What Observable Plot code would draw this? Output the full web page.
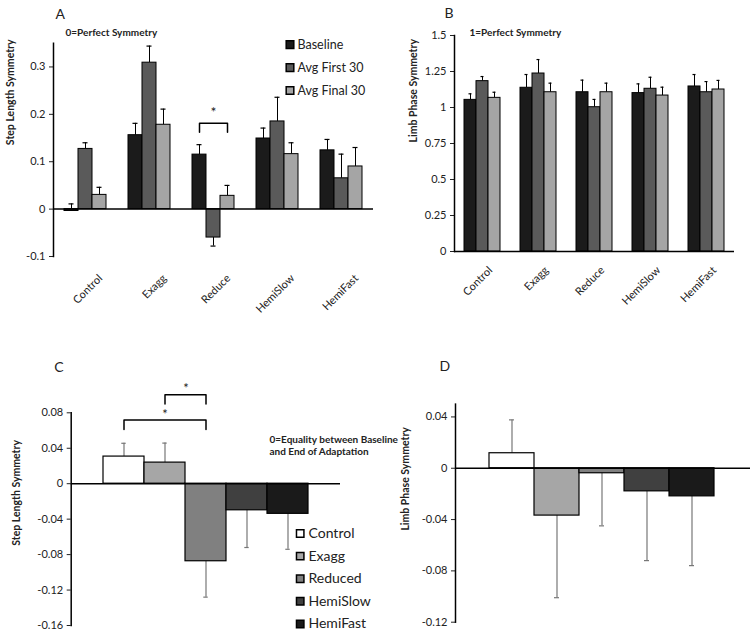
<!DOCTYPE html>
<html><head><meta charset="utf-8">
<script src="https://cdn.jsdelivr.net/npm/d3@7"></script>
<script src="https://cdn.jsdelivr.net/npm/@observablehq/plot@0.6"></script>
<style>
body{margin:0;background:#fff;font-family:Lato,sans-serif}
#wrap{position:relative;width:750px;height:631px;overflow:hidden;background:#fff}
.panel{position:absolute}
.panel svg{background:transparent;overflow:visible;max-width:none}
</style></head><body><div id="wrap"></div><script>
// ---- Panels A & B : grouped bars ----
const groups = ["Control","Exagg","Reduce","HemiSlow","HemiFast"];
const phases = ["Baseline","Avg First 30","Avg Final 30"];
const phaseColors = ["#1b1b1b","#5a5a5a","#a5a5a5"];

// A: Step Length Symmetry (signed error: + up, - down)
const stepBaseline    = [-0.004, 0.156, 0.115, 0.149, 0.124];
const stepFirst30     = [0.127, 0.309, -0.060, 0.185, 0.065];
const stepFinal30     = [0.030, 0.178, 0.028, 0.116, 0.090];
const stepBaselineErr = [0.015, 0.025, 0.021, 0.022, 0.023];
const stepFirst30Err  = [0.013, 0.035, -0.018, 0.051, 0.051];
const stepFinal30Err  = [0.016, 0.033, 0.022, 0.024, 0.040];
const stepTicks = [-0.1, 0, 0.1, 0.2, 0.3];

// B: Limb Phase Symmetry
const limbBaseline    = [1.053, 1.137, 1.106, 1.100, 1.146];
const limbFirst30     = [1.183, 1.236, 1.002, 1.130, 1.106];
const limbFinal30     = [1.067, 1.106, 1.106, 1.083, 1.125];
const limbBaselineErr = [0.042, 0.092, 0.084, 0.064, 0.083];
const limbFirst30Err  = [0.032, 0.097, 0.054, 0.080, 0.074];
const limbFinal30Err  = [0.039, 0.063, 0.063, 0.058, 0.063];
const limbTicks = [0, 0.25, 0.5, 0.75, 1, 1.25, 1.5];

// ---- Panels C & D : change (end of adaptation - baseline) ----
const conditions = ["Control","Exagg","Reduced","HemiSlow","HemiFast"];
const conditionColors = ["#ffffff","#a6a6a6","#808080","#404040","#1a1a1a"];
const stepChange    = [0.0306, 0.0238, -0.0875, -0.030, -0.034];
const stepChangeErr = [0.015, 0.022, -0.0405, -0.042, -0.040];
const stepChangeTicks = [-0.16, -0.12, -0.08, -0.04, 0, 0.04, 0.08];
const limbChange    = [0.0117, -0.0369, -0.0039, -0.018, -0.0219];
const limbChangeErr = [0.026, -0.064, -0.041, -0.054, -0.054];
const limbChangeTicks = [-0.12, -0.08, -0.04, 0, 0.04];

const FONT = "Lato, 'Open Sans', sans-serif";
const wrap = document.getElementById("wrap");
function place(svg, left, top) {
  const d = document.createElement("div");
  d.className = "panel"; d.style.left = left + "px"; d.style.top = top + "px";
  d.appendChild(svg); wrap.appendChild(d);
}
function rows(vals, errs) {
  return groups.flatMap((g, i) => phases.map((p, j) => ({group: g, phase: p, value: vals[j][i], tip: vals[j][i] + errs[j][i]})));
}
const baseStyle = {fontFamily: FONT, fontSize: "11px", color: "#222", background: "transparent", overflow: "visible", maxWidth: "none"};

function groupedPanel(o) {
  const data = rows(o.vals, o.errs);
  return Plot.plot({
    width: 375, height: 320,
    marginLeft: o.ml, marginRight: o.mr, marginTop: o.mt, marginBottom: o.mb,
    style: baseStyle,
    fx: {domain: groups, padding: 0},
    x: {domain: phases, paddingInner: 0, paddingOuter: o.po, axis: null},
    y: {domain: o.domain},
    color: {domain: phases, range: phaseColors},
    marks: [
      Plot.axisY({ticks: o.ticks, tickFormat: d => String(d), tickSize: 4, tickPadding: 4, label: null}),
      Plot.axisFx({anchor: "bottom", tickRotate: -45, tickSize: 0, tickPadding: o.tp, dx: o.ldx, label: null, fontSize: 11}),
      Plot.frame({anchor: "left", facetAnchor: "left", stroke: "#000", strokeWidth: 1.5}),
      Plot.ruleX(data, {fx: "group", x: "phase", y1: "value", y2: "tip", stroke: "#000", strokeWidth: 1}),
      Plot.tickY(data, {fx: "group", x: "phase", y: "tip", insetLeft: 4.5, insetRight: 4.5, stroke: "#000", strokeWidth: 1.2}),
      Plot.barY(data, {fx: "group", x: "phase", y: "value", fill: "phase", stroke: "#000", strokeWidth: 1}),
      Plot.ruleY([0], {stroke: "#000", strokeWidth: 1.5}),
      Plot.text([{g: "Control"}], {fx: "g", text: () => o.letter, frameAnchor: "top-left", textAnchor: "start", dx: o.letterDx, dy: o.letterDy, fontSize: 14}),
      Plot.text([{g: "Control", t: o.title, y: o.titleY}], {fx: "g", text: "t", y: "y", frameAnchor: "left", rotate: -90, dx: o.titleDx, fontWeight: "bold", fontSize: 10.5}),
      Plot.text([{g: "Control", t: o.note, y: o.noteY}], {fx: "g", x: () => "Baseline", y: "y", text: "t", textAnchor: "start", dx: o.noteDx, fontWeight: "bold", fontSize: 10}),
      ...(o.extra || [])
    ]
  });
}

// Panel A
const legendA = phases.map((p, i) => ({g: "HemiSlow", phase: p, i}));
const bracketA = [
  {g: "Reduce", x: "Baseline", y: 0.162}, {g: "Reduce", x: "Baseline", y: 0.181},
  {g: "Reduce", x: "Avg Final 30", y: 0.181}, {g: "Reduce", x: "Avg Final 30", y: 0.162}
];
const svgA = groupedPanel({
  vals: [stepBaseline, stepFirst30, stepFinal30],
  errs: [stepBaselineErr, stepFirst30Err, stepFinal30Err],
  domain: [-0.1, 0.35], ticks: stepTicks,
  ml: 51, mr: 0, mt: 42.75, mb: 64, po: 0.71, tp: 20, ldx: 15,
  letter: "A", letterDx: 2, letterDy: -34,
  title: "Step Length Symmetry", titleY: 0.135, titleDx: -43,
  note: "0=Perfect Symmetry", noteY: 0.3726, noteDx: -6,
  extra: [
    Plot.line(bracketA, {fx: "g", x: "x", y: "y", stroke: "#000", strokeWidth: 1.5}),
    Plot.text([{g: "Reduce"}], {fx: "g", x: () => "Avg First 30", y: () => 0.203, text: () => "*", fontSize: 14}),
    Plot.dot(legendA, {fx: "g", x: () => "Avg Final 30", y: d => 0.347 - d.i * 0.0484, fill: "phase", stroke: "#000", symbol: "square", r: 4.3, dx: -1.5}),
    Plot.text(legendA, {fx: "g", x: () => "Avg Final 30", y: d => 0.347 - d.i * 0.0484, text: "phase", textAnchor: "start", dx: 6, fontSize: 12.5})
  ]
});
place(svgA, 0, 0);

// Panel B
const svgB = groupedPanel({
  vals: [limbBaseline, limbFirst30, limbFinal30],
  errs: [limbBaselineErr, limbFirst30Err, limbFinal30Err],
  domain: [0, 1.5], ticks: limbTicks,
  ml: 78, mr: 15, mt: 35, mb: 69, po: 0.75, tp: 17, ldx: 8,
  letter: "B", letterDx: -10, letterDy: -27,
  title: "Limb Phase Symmetry", titleY: 0.757, titleDx: -41,
  note: "1=Perfect Symmetry", noteY: 1.52, noteDx: -1
});
place(svgB, 375, 0);

function changePanel(o) {
  const data = conditions.map((c, i) => ({cond: c, value: o.vals[i], tip: o.vals[i] + o.errs[i]}));
  return Plot.plot({
    width: o.w, height: 311,
    marginLeft: o.ml, marginRight: o.mr, marginTop: o.mt, marginBottom: o.mb,
    style: baseStyle,
    x: {domain: conditions, range: o.xr, padding: 0, axis: null},
    y: {domain: o.domain},
    color: {domain: conditions, range: conditionColors},
    marks: [
      Plot.axisY({ticks: o.ticks, tickFormat: d => String(d), tickSize: 4, tickPadding: 4, label: null}),
      Plot.frame({anchor: "left", stroke: "#000", strokeWidth: 1.5}),
      Plot.ruleX(data, {x: "cond", y1: "value", y2: "tip", stroke: "#777", strokeWidth: 1.2}),
      Plot.tickY(data, {x: "cond", y: "tip", insetLeft: o.capInset, insetRight: o.capInset, stroke: "#777", strokeWidth: 1.2}),
      Plot.barY(data, {x: "cond", y: "value", fill: "cond", stroke: "#000", strokeWidth: 1.2}),
      Plot.ruleY([0], {stroke: "#000", strokeWidth: 1.5}),
      Plot.text([o.letter], {frameAnchor: "top-left", textAnchor: "start", dx: o.letterDx, dy: o.letterDy, fontSize: 14}),
      Plot.text([o.title], {y: () => o.titleY, frameAnchor: "left", rotate: -90, dx: o.titleDx, fontWeight: "bold", fontSize: 10.5}),
      ...(o.extra || [])
    ]
  });
}

// Panel D
const svgD = changePanel({
  vals: limbChange, errs: limbChangeErr, domain: [-0.12, 0.05], ticks: limbChangeTicks,
  w: 375, ml: 80, mr: 0, mt: 83.6, mb: 9.3, xr: [113.3, 339], capInset: 20,
  letter: "D", letterDx: -16, letterDy: -43,
  title: "Limb Phase Symmetry", titleY: -0.0486, titleDx: -50
});
place(svgD, 375, 320);

// Panel C
const legendC = conditions.map((c, i) => ({cond: c, i}));
const bracketLow = [
  {x: "Control", y: 0.0612}, {x: "Control", y: 0.0718},
  {x: "Reduced", y: 0.0718}, {x: "Reduced", y: 0.0612}
];
const bracketHigh = [
  {x: "Exagg", y: 0.090}, {x: "Exagg", y: 0.1005},
  {x: "Reduced", y: 0.1005}, {x: "Reduced", y: 0.090}
];
const svgC = changePanel({
  vals: stepChange, errs: stepChangeErr, domain: [-0.16, 0.08], ticks: stepChangeTicks,
  w: 420, ml: 70.7, mr: 80, mt: 92.3, mb: 6, xr: [101.7, 310], capInset: 18.3,
  letter: "C", letterDx: -17, letterDy: -51,
  title: "Step Length Symmetry", titleY: -0.07, titleDx: -55,
  extra: [
    Plot.line(bracketLow, {x: "x", y: "y", stroke: "#000", strokeWidth: 1.5}),
    Plot.line(bracketHigh, {x: "x", y: "y", stroke: "#000", strokeWidth: 1.5}),
    Plot.text(["*"], {x: () => "Exagg", y: () => 0.078, fontSize: 13}),
    Plot.text(["*"], {x: () => "Reduced", y: () => 0.107, dx: -20, fontSize: 13}),
    Plot.text(["0=Equality between Baseline\nand End of Adaptation"], {frameAnchor: "left", y: () => 0.0506, textAnchor: "start", lineAnchor: "middle", dx: 198.3, dy: 6, lineHeight: 1.27, fontWeight: "bold", fontSize: 10}),
    Plot.dot(legendC, {frameAnchor: "left", y: d => -0.0562 - d.i * 0.0255, dx: 229, fill: "cond", stroke: "#000", symbol: "square", r: 4.2}),
    Plot.text(legendC, {frameAnchor: "left", y: d => -0.0562 - d.i * 0.0255, dx: 237.3, text: "cond", textAnchor: "start", fontSize: 14})
  ]
});
place(svgC, 0, 320);
</script></body></html>
